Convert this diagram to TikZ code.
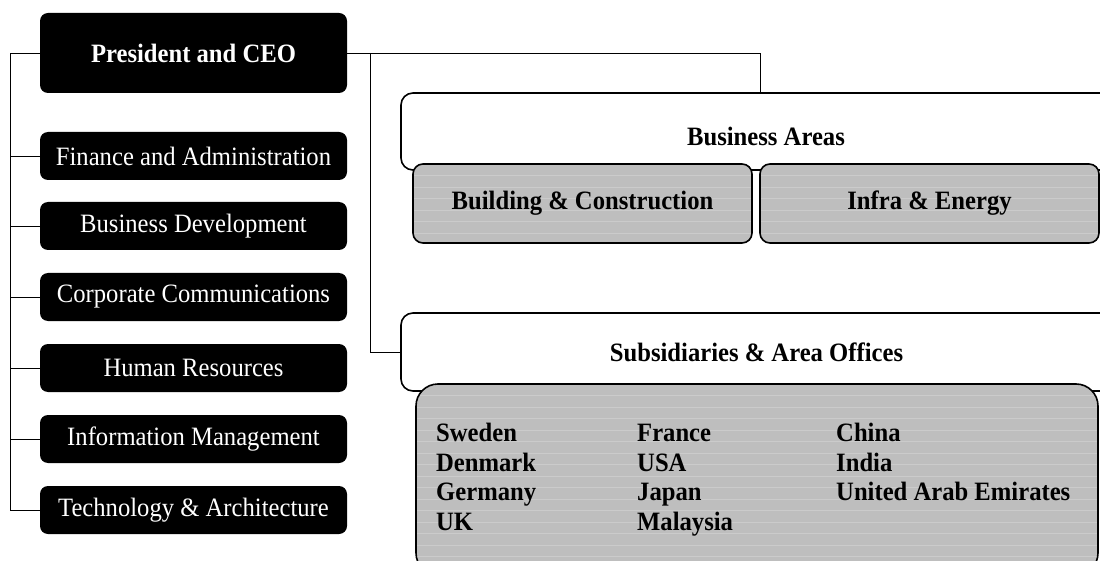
\documentclass[tikz,border=0pt]{standalone}
\usepackage{fontspec}
\setmainfont{Liberation Serif}[FakeStretch=0.93]
\definecolor{boxgray}{RGB}{190,190,190}
\begin{document}
\begin{tikzpicture}[x=1pt,y=-1pt,
  blackbox/.style={fill=black, rounded corners=8pt, minimum width=307pt, minimum height=48pt,
    text=white, font=\fontsize{26.5}{30}\selectfont, inner sep=0pt},
  whitebox/.style={draw=black, line width=1.6pt, fill=white, rounded corners=12pt, inner sep=0pt,
    font=\bfseries\fontsize{26.5}{30}\selectfont},
  graybox/.style={draw=black, line width=1.6pt, fill=boxgray, rounded corners=10pt, inner sep=0pt,
    font=\bfseries\fontsize{26.5}{30}\selectfont,
    path picture={\foreach \k in {1,...,18}{\draw[white,opacity=0.2,line width=0.7pt]
      ([yshift=-\k*11.5pt]path picture bounding box.north west) --
      ([yshift=-\k*11.5pt]path picture bounding box.north east);}}},
  country/.style={anchor=base west, inner sep=0pt, font=\bfseries\fontsize{26.5}{30}\selectfont},
  conn/.style={draw=black, line width=0.9pt}]
\useasboundingbox (0,0) rectangle (1100,561);

% left column
\node[blackbox, minimum height=80pt, font=\bfseries\fontsize{26.5}{30}\selectfont] (pres) at (193.5,53) {President and CEO};
\node[blackbox] (fa) at (193.5,156) {Finance and Administration};
\node[blackbox] (bd) at (193.5,226) {Business Development};
\node[blackbox] (cc) at (193.5,297) {Corporate Communications};
\node[blackbox] (hr) at (193.5,368) {Human Resources};
\node[blackbox] (im) at (193.5,439) {Information Management};
\node[blackbox] (ta) at (193.5,510) {Technology \& Architecture};

% right side
\node[whitebox, minimum width=729pt, minimum height=77pt] (ba) at (765.5,131.5) {};
\node[font=\bfseries\fontsize{26.5}{30}\selectfont, inner sep=0pt] (batext) at (766,136) {Business Areas};
\node[graybox, minimum width=339pt, minimum height=79pt] (bc) at (582.5,203.5) {Building \& Construction};
\node[graybox, minimum width=339pt, minimum height=79pt] (ie) at (929.5,203.5) {Infra \& Energy};

\node[whitebox, minimum width=711pt, minimum height=78pt] (subs) at (756.5,352) {Subsidiaries \& Area Offices};
\node[graybox, rounded corners=22pt, minimum width=682pt, minimum height=191pt] (ctry) at (757,479.5) {};

\node[country] (c1) at (436,441) {Sweden};
\node[country] (c2) at (436,471) {Denmark};
\node[country] (c3) at (436,500) {Germany};
\node[country] (c4) at (436,530) {UK};
\node[country] (c5) at (637,441) {France};
\node[country] (c6) at (637,471) {USA};
\node[country] (c7) at (637,500) {Japan};
\node[country] (c8) at (637,530) {Malaysia};
\node[country] (c9) at (836,441) {China};
\node[country] (c10) at (836,471) {India};
\node[country] (c11) at (836,500) {United Arab Emirates};

% connectors
\coordinate (ltop) at (10,53);
\coordinate (lbot) at (10,510);
\coordinate (bajoin) at (760,93);
\coordinate (rv) at (370,53);
\draw[conn] (pres.west) -- (ltop) -- (lbot) -- (ta.west);
\foreach \n in {fa,bd,cc,hr,im}{\draw[conn] (ltop |- \n.west) -- (\n.west);}
\draw[conn] (pres.east) -| (bajoin);
\draw[conn] (rv) |- (subs.west);
\end{tikzpicture}
\end{document}
